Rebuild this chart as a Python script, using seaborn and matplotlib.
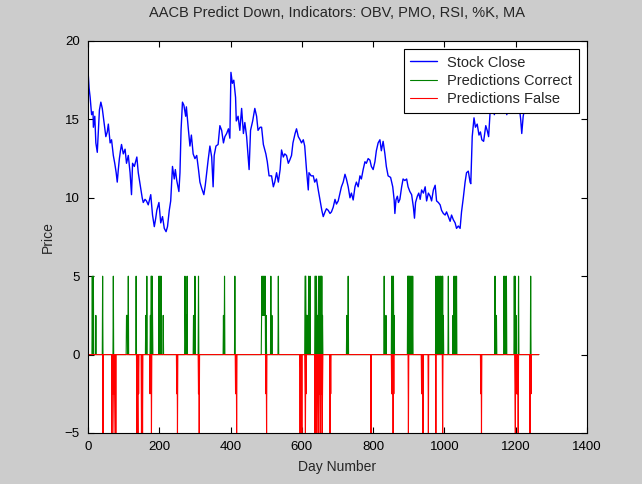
import numpy as np
import pandas as pd
import matplotlib
matplotlib.use("Agg")
import matplotlib.pyplot as plt
import seaborn as sns

# Closing price of AACB, sampled along the trading days
close_days = [0, 3, 6, 10, 14, 15, 19, 22, 26, 29, 32, 36, 40, 45, 50, 54, 57, 62, 66, 71,
              75, 79, 82, 85, 88, 91, 94, 99, 104, 108, 113, 118, 122, 125, 130, 137, 141, 148,
              152, 155, 160, 164, 169, 176, 181, 186, 190, 193, 199, 204, 209, 214, 219, 223,
              228, 232, 237, 242, 245, 249, 255, 258, 261, 265, 269, 274, 276, 281, 286, 290,
              295, 300, 305, 310, 314, 319, 325, 329, 333, 337, 342, 347, 351, 354, 359, 365,
              370, 375, 380, 384, 389, 394, 398, 401, 405, 409, 414, 416, 421, 426, 431, 436,
              440, 445, 452, 456, 462, 468, 473, 477, 483, 487, 492, 499, 503, 508, 515, 520,
              524, 529, 534, 539, 543, 548, 552, 557, 562, 566, 571, 575, 581, 585, 590, 595,
              599, 604, 608, 613, 618, 620, 626, 632, 636, 641, 646, 651, 656, 660, 665, 669,
              674, 679, 683, 688, 693, 697, 702, 707, 711, 716, 721, 725, 730, 735, 739, 744,
              749, 753, 758, 763, 767, 772, 777, 781, 786, 791, 795, 800, 805, 809, 814, 819,
              823, 828, 833, 837, 842, 849, 855, 859, 861, 864, 868, 871, 875, 880, 884, 889,
              894, 898, 903, 908, 913, 916, 919, 924, 928, 932, 936, 941, 946, 950, 955, 960,
              964, 969, 974, 978, 983, 988, 992, 997, 1002, 1006, 1011, 1016, 1020, 1025, 1030,
              1034, 1039, 1044, 1048, 1053, 1058, 1062, 1067, 1072, 1074, 1078, 1083, 1087,
              1092, 1097, 1101, 1105, 1110, 1116, 1120, 1124, 1128, 1133, 1137, 1140, 1145,
              1150, 1155, 1160, 1165, 1170, 1175, 1180, 1185, 1190, 1195, 1200, 1205, 1210,
              1214, 1217, 1221, 1226, 1231, 1236, 1240, 1245, 1250, 1255, 1260, 1265]
close_prices = [18.1, 17.0, 16.4, 15.3, 15.5, 14.5, 15.2, 13.5, 12.9, 14.2, 15.6, 16.1, 15.7, 14.8,
                13.9, 14.2, 14.7, 13.5, 13.7, 12.7, 12.2, 11.6, 11.0, 11.8, 12.5, 13.0, 13.4, 12.8,
                13.1, 12.2, 12.7, 11.6, 10.2, 12.2, 12.0, 12.6, 11.6, 10.6, 10.0, 9.7, 9.9, 9.8,
                9.55, 10.2, 8.9, 8.16, 8.7, 9.2, 9.7, 8.4, 8.8, 8.05, 7.84, 8.16, 9.2, 9.8, 12.0,
                11.2, 11.8, 11.1, 10.4, 11.6, 14.3, 16.1, 15.9, 15.2, 15.8, 14.5, 13.3, 14.0, 12.8,
                12.5, 12.7, 11.8, 11.0, 10.6, 10.2, 10.8, 11.6, 12.4, 13.3, 12.6, 10.7, 12.7, 13.3,
                13.4, 14.6, 14.3, 13.5, 13.9, 14.1, 14.4, 13.8, 18.0, 17.3, 17.5, 16.4, 14.9, 15.2,
                14.3, 15.7, 14.1, 14.8, 13.9, 11.8, 14.3, 14.9, 15.7, 15.2, 14.3, 14.5, 14.5, 13.4,
                12.8, 12.3, 11.4, 11.4, 10.7, 11.0, 11.6, 11.0, 11.8, 13.05, 12.6, 12.8, 12.7, 12.2,
                12.4, 12.7, 13.5, 14.1, 14.4, 13.9, 13.7, 13.5, 13.7, 13.3, 11.8, 10.5, 11.6, 11.4,
                11.4, 11.0, 11.2, 10.5, 9.86, 9.2, 8.8, 9.1, 9.3, 9.2, 9.0, 9.1, 9.4, 9.9, 9.6, 9.8,
                10.3, 10.7, 11.0, 11.5, 11.2, 10.7, 10.0, 10.3, 9.86, 10.7, 11.0, 10.7, 11.4, 11.2,
                11.8, 12.3, 12.2, 12.5, 12.4, 12.0, 11.8, 12.3, 13.0, 13.5, 13.7, 13.0, 13.6, 12.8,
                12.0, 11.4, 11.3, 10.7, 9.86, 9.0, 9.86, 10.1, 9.7, 9.9, 10.7, 11.2, 11.1, 11.2,
                10.7, 10.4, 10.2, 9.4, 8.7, 9.7, 10.1, 10.3, 9.9, 10.5, 10.3, 10.7, 9.8, 10.3, 10.1,
                9.8, 10.5, 10.8, 9.8, 9.7, 9.55, 9.2, 9.0, 8.9, 9.1, 8.8, 8.5, 8.9, 8.6, 8.4, 8.05,
                8.2, 8.05, 9.1, 10.0, 11.0, 11.6, 11.7, 11.0, 10.9, 13.9, 15.1, 14.5, 14.7, 14.0,
                14.2, 13.7, 13.6, 14.6, 14.3, 13.9, 15.4, 15.8, 16.2, 15.3, 16.0, 16.4, 16.1, 16.5,
                16.0, 16.3, 15.3, 16.2, 16.6, 16.3, 16.0, 16.4, 16.1, 15.8, 15.0, 14.1, 15.2, 15.8,
                16.2, 16.0, 15.8, 15.6, 16.0, 16.3, 16.1, 16.2]

# Days with a correct "down" prediction and the signal level drawn for them
correct_days = [12, 15, 22, 41, 71, 108, 109, 110, 113, 135, 162, 165, 175, 177, 178, 180, 181,
                199, 202, 205, 211, 272, 273, 275, 276, 278, 296, 300, 310, 380, 383, 412,
                487, 488, 489, 490, 491, 492, 493, 494, 495, 496, 497, 500, 513, 516, 534,
                609, 610, 611, 613, 614, 616, 619, 623, 637, 638, 640, 641, 643, 645, 647, 649,
                650, 652, 654, 656, 658, 726, 730, 831, 836, 852, 854, 857, 859,
                897, 898, 900, 902, 905, 908, 911, 976, 978, 980, 983, 985, 987, 989, 991, 993,
                995, 997, 1011, 1024, 1027, 1030, 1034, 1142, 1146, 1167, 1168, 1170, 1172,
                1174, 1196, 1198, 1201, 1208, 1242]
correct_levels = [5, 5, 2.5, 5, 5, 2.5, 2.5, 2.5, 5, 5, 2.5, 5, 2.5, 5, 5, 5, 2.5,
                  5, 5, 5, 2.5, 5, 2.5, 2.5, 2.5, 5, 2.5, 5, 5, 2.5, 5, 5,
                  2.5, 5, 2.5, 2.5, 5, 2.5, 2.5, 5, 2.5, 2.5, 5, 2.5, 5, 2.5, 5,
                  5, 5, 5, 2.5, 2.5, 2.5, 5, 5, 5, 5, 2.5, 5, 2.5, 2.5, 5, 5,
                  2.5, 5, 5, 5, 2.5, 2.5, 5, 5, 2.5, 5, 5, 5, 2.5,
                  5, 5, 5, 5, 5, 5, 5, 5, 2.5, 5, 5, 2.5, 5, 5, 2.5, 5,
                  5, 2.5, 5, 2.5, 5, 5, 5, 5, 2.5, 5, 2.5, 5, 2.5,
                  5, 5, 5, 2.5, 5, 5]

# Days with a false "down" prediction and the signal level drawn for them
false_days = [42, 67, 69, 70, 72, 73, 74, 76, 78, 137, 139, 140, 142, 150, 151, 153, 174, 178,
              249, 251, 310, 312, 414, 417, 499, 501, 595, 597, 600, 609, 610, 612, 637,
              642, 643, 645, 647, 648, 650, 652, 653, 655, 657, 658, 679, 681, 794,
              852, 854, 856, 858, 899, 936, 938, 940, 955, 976, 995, 1102, 1104,
              1198, 1199, 1201, 1203, 1205, 1207, 1240, 1243]
false_levels = [-5, -5, -2.5, -2.5, -2.5, -5, -2.5, -2.5, -5, -5, -2.5, -5, -2.5, -5, -2.5, -5,
                -2.5, -5, -2.5, -5, -2.5, -5, -2.5, -5, -2.5, -5, -5, -2.5, -5, -2.5, -5, -2.5,
                -5, -5, -2.5, -2.5, -5, -2.5, -2.5, -5, -2.5, -2.5, -5, -2.5, -5, -2.5, -5,
                -2.5, -2.5, -5, -2.5, -5, -2.5, -2.5, -5, -5, -5, -5, -2.5, -5,
                -2.5, -5, -2.5, -2.5, -2.5, -5, -5, -2.5]

n_days = 1266
title = "AACB Predict Down, Indicators: OBV, PMO, RSI, %K, MA"
x_ticks = [0, 200, 400, 600, 800, 1000, 1200, 1400]
y_ticks = [-5, 0, 5, 10, 15, 20]

sns.set_style("ticks")
plt.rcParams["font.family"] = ["Liberation Sans", "DejaVu Sans"]

day_index = np.arange(n_days)
correct = np.zeros(n_days)
correct[correct_days] = correct_levels
false = np.zeros(n_days)
false[false_days] = false_levels

stock = pd.DataFrame({"day": close_days, "price": close_prices})
signals = pd.DataFrame({"day": day_index, "correct": correct, "false": false})

fig = plt.figure(figsize=(6.42, 4.84), dpi=100, facecolor="#cccccc")
ax = fig.add_axes([0.1371, 0.1054, 0.7772, 0.8099])
ax.set_facecolor("white")

sns.lineplot(data=stock, x="day", y="price", ax=ax, color="#0000ff", lw=1.0,
             estimator=None, label="Stock Close")
sns.lineplot(data=signals, x="day", y="correct", ax=ax, color="#008000", lw=0.8,
             estimator=None, label="Predictions Correct")
sns.lineplot(data=signals, x="day", y="false", ax=ax, color="#ff0000", lw=0.8,
             estimator=None, label="Predictions False")

ax.set_xlim(0, 1400)
ax.set_ylim(-5, 20)
ax.set_xticks(x_ticks)
ax.set_yticks(y_ticks)
ax.tick_params(direction="in", top=True, right=True, length=4, width=0.8,
               labelsize=9.5, colors="black", pad=6)
for side in ax.spines.values():
    side.set_visible(True)
    side.set_color("black")
    side.set_linewidth(0.8)

ax.set_title(title, fontsize=10.5, pad=17)
ax.set_xlabel("Day Number", fontsize=10, labelpad=5)
ax.set_ylabel("Price", fontsize=10, labelpad=7)

leg = ax.legend(loc="upper right", fontsize=10.5, frameon=True, fancybox=False,
                edgecolor="black", framealpha=1, borderaxespad=0.55,
                handlelength=1.85, handletextpad=0.7, labelspacing=0.3, borderpad=0.45)
leg.get_frame().set_linewidth(0.8)

fig.savefig("out.png", dpi=100, facecolor=fig.get_facecolor())
